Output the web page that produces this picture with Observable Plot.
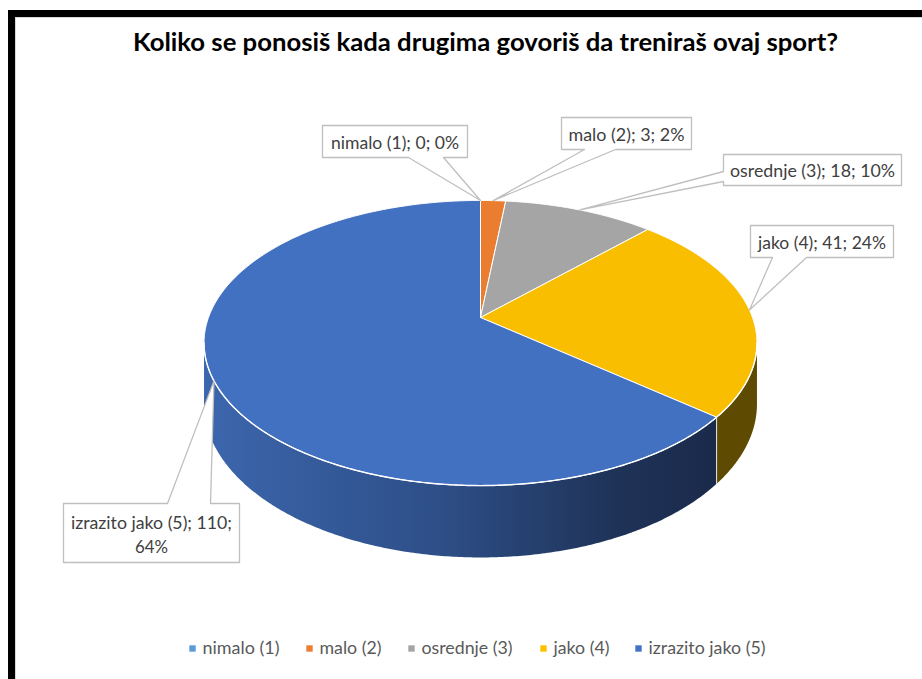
<!DOCTYPE html>
<html>
<head>
<meta charset="utf-8">
<script src="https://cdn.jsdelivr.net/npm/d3@7"></script>
<script src="https://cdn.jsdelivr.net/npm/@observablehq/plot@0.6"></script>
<style>
  html, body { margin: 0; padding: 0; background: #fff; }
  #wrap { position: relative; width: 922px; height: 679px; overflow: hidden; background: #fff; }
  #chart { position: absolute; left: 0; top: 0; }
  #inner { position: absolute; left: 15px; top: 17px; width: 920px; height: 680px;
           border-top: 1px solid #d9d9d9; border-left: 1px solid #d9d9d9; pointer-events: none; }
  #frame { position: absolute; left: 8px; top: 10px; width: 930px; height: 690px;
           border-top: 7px solid #000; border-left: 7px solid #000; pointer-events: none; }
</style>
</head>
<body>
<div id="wrap"><div id="chart"></div><div id="inner"></div><div id="frame"></div></div>
<script>
// ---------- data ----------
const title = "Koliko se ponosiš kada drugima govoriš da treniraš ovaj sport?";
const categories = ["nimalo (1)", "malo (2)", "osrednje (3)", "jako (4)", "izrazito jako (5)"];
const counts = [0, 3, 18, 41, 110];
const percents = ["0%", "2%", "10%", "24%", "64%"];
const palette = ["#5B9BD5", "#ED7D31", "#A5A5A5", "#FFC000", "#4472C4"];

// ---------- geometry of the perspective pie (layout) ----------
const W = 922, H = 679;
const CX = 480, CY = 317;      // apex of the pie
const A = 272, B = 138, K = 0.179, DEPTH = 59;
const sideFills = ["#2F5597", "#7B3F14", "#555555", "#5E4A00", "url(#blueSide)"];
const topFills = ["#5B9BD5", "#EB7D31", "#A5A5A5", "#F9BE00", "#4371C1"];

function proj(t, drop = 0) {
  const u = Math.sin(t), v = Math.cos(t), w = 1 + K * v;
  return [CX + A * u / w, CY - B * v / w + drop / w];
}

const total = d3.sum(counts);
let acc = 0;
const slices = counts.map((c, i) => {
  const a0 = acc / total * 2 * Math.PI; acc += c;
  const a1 = acc / total * 2 * Math.PI;
  return { i, cat: categories[i], count: c, pct: percents[i], a0, a1, mid: (a0 + a1) / 2 };
});

function arc(a0, a1, drop) {
  const n = Math.max(2, Math.ceil(Math.abs(a1 - a0) / (Math.PI / 360)));
  const pts = [];
  for (let j = 0; j <= n; j++) pts.push(proj(a0 + (a1 - a0) * j / n, drop));
  return pts;
}

// top faces
const topPts = [];
for (const s of slices) {
  if (s.count === 0) continue;
  const pts = [[CX, CY], ...arc(s.a0, s.a1, 0), [CX, CY]];
  for (const [x, y] of pts) topPts.push({ key: s.cat, x, y, fill: topFills[s.i] });
}

// visible side faces
const tS = Math.acos(-K), tE = 2 * Math.PI - tS;
const sidePts = [], edges = [];
for (const s of slices) {
  const lo = Math.max(s.a0, tS), hi = Math.min(s.a1, tE);
  if (s.count === 0 || lo >= hi) continue;
  const pts = [...arc(lo, hi, 0), ...arc(hi, lo, DEPTH)];
  for (const [x, y] of pts) sidePts.push({ key: s.cat, x, y, fill: sideFills[s.i] });
}
for (const s of slices) {
  if (s.a1 > tS && s.a1 < tE) {
    const [x1, y1] = proj(s.a1, 0), [x2, y2] = proj(s.a1, DEPTH);
    edges.push({ x1, y1, x2, y2 });
  }
}
const rimPts = arc(tS, tE, 0).map(([x, y]) => ({ x, y }));

// callouts (box = [x0,y0,x1,y1], pointer base on one side)
const calloutLayout = [
  { box: [322, 125, 467, 157], side: "bottom", base: [408, 443] },
  { box: [561, 117, 691, 149], side: "bottom", base: [584, 615] },
  { box: [723, 154, 901, 185], side: "left", base: [171, 181] },
  { box: [750, 225, 893, 257], side: "bottom", base: [772, 806] },
  { box: [63, 503, 239, 562], side: "top", base: [167, 210] }
];
const calloutPts = [], labelRows = [];
slices.forEach((s, i) => {
  const L = calloutLayout[i];
  const [x0, y0, x1, y1] = L.box;
  const tip = proj(s.mid, 0);
  let poly;
  if (L.side === "bottom") poly = [[x0, y0], [x1, y0], [x1, y1], [L.base[1], y1], tip, [L.base[0], y1], [x0, y1], [x0, y0]];
  else if (L.side === "top") poly = [[x0, y0], [L.base[0], y0], tip, [L.base[1], y0], [x1, y0], [x1, y1], [x0, y1], [x0, y0]];
  else poly = [[x0, y0], [x1, y0], [x1, y1], [x0, y1], [x0, L.base[1]], tip, [x0, L.base[0]], [x0, y0]];
  for (const [x, y] of poly) calloutPts.push({ key: s.cat, x, y });
  const cx = (x0 + x1) / 2, cy = (y0 + y1) / 2 + 1.5;
  const full = `${s.cat}; ${s.count}; ${s.pct}`;
  if (y1 - y0 > 45) {
    labelRows.push({ x: cx, y: cy - 11, text: `${s.cat}; ${s.count};` });
    labelRows.push({ x: cx, y: cy + 13, text: s.pct });
  } else {
    labelRows.push({ x: cx, y: cy, text: full });
  }
});

// legend (layout)
const legendX = [192, 309, 411, 543, 638];
const legendRows = categories.map((c, i) => ({ x: legendX[i], y: 648, text: c, fill: palette[i] }));

// target text widths (to imitate the narrow Calibri rendering)
const fit = new Map([
  [title, 705],
  ["nimalo (1); 0; 0%", 128], ["malo (2); 3; 2%", 116], ["osrednje (3); 18; 10%", 165],
  ["jako (4); 41; 24%", 128], ["izrazito jako (5); 110;", 161], ["64%", 33],
  ["nimalo (1)", 77], ["malo (2)", 62], ["osrednje (3)", 91], ["jako (4)", 56], ["izrazito jako (5)", 117]
]);

const chart = Plot.plot({
  width: W, height: H, margin: 0,
  x: { domain: [0, W], range: [0, W], axis: null },
  y: { domain: [0, H], range: [0, H], axis: null },
  color: { type: "identity" },
  style: { background: "transparent", fontFamily: "Lato, 'Open Sans', sans-serif", overflow: "visible" },
  marks: [
    Plot.line(sidePts, { x: "x", y: "y", z: "key", fill: "fill", stroke: "none", curve: "linear" }),
    Plot.link(edges, { x1: "x1", y1: "y1", x2: "x2", y2: "y2", stroke: "#ffffff", strokeWidth: 1, strokeOpacity: 0.85 }),
    Plot.line(topPts, { x: "x", y: "y", z: "key", fill: "fill", stroke: "#ffffff", strokeWidth: 1, strokeLinejoin: "round", curve: "linear" }),
    Plot.line(rimPts, { x: "x", y: "y", stroke: "#ffffff", strokeWidth: 1.4, curve: "linear" }),
    Plot.line(calloutPts, { x: "x", y: "y", z: "key", fill: "#ffffff", stroke: "#BFBFBF", strokeWidth: 1.3, curve: "linear" }),
    Plot.text(labelRows, { x: "x", y: "y", text: "text", fontSize: 18, fill: "#404040" }),
    Plot.text([title], { x: () => 485, y: () => 43, text: d => d, fontSize: 24, fontWeight: "bold", fill: "#000000" }),
    Plot.dot(legendRows, { x: "x", y: "y", symbol: "square", r: 3.6, fill: "fill", stroke: "none" }),
    Plot.text(legendRows, { x: "x", y: "y", text: "text", dx: 10, textAnchor: "start", fontSize: 17.5, fill: "#595959" })
  ]
});

// gradient for the shaded blue side
const ns = "http://www.w3.org/2000/svg";
const defs = document.createElementNS(ns, "defs");
const grad = document.createElementNS(ns, "linearGradient");
grad.setAttribute("id", "blueSide");
grad.setAttribute("gradientUnits", "userSpaceOnUse");
grad.setAttribute("x1", 205); grad.setAttribute("x2", 716);
grad.setAttribute("y1", 0); grad.setAttribute("y2", 0);
[[0, "#3C66AD"], [0.45, "#2E4F88"], [0.8, "#1F3358"], [1, "#1A2A4B"]].forEach(([o, c]) => {
  const st = document.createElementNS(ns, "stop");
  st.setAttribute("offset", o); st.setAttribute("stop-color", c);
  grad.appendChild(st);
});
defs.appendChild(grad);
chart.insertBefore(defs, chart.firstChild);

chart.querySelectorAll("text").forEach(t => {
  const w = fit.get(t.textContent);
  if (w) { t.setAttribute("textLength", w); t.setAttribute("lengthAdjust", "spacingAndGlyphs"); }
});

document.getElementById("chart").appendChild(chart);
</script>
</body>
</html>
